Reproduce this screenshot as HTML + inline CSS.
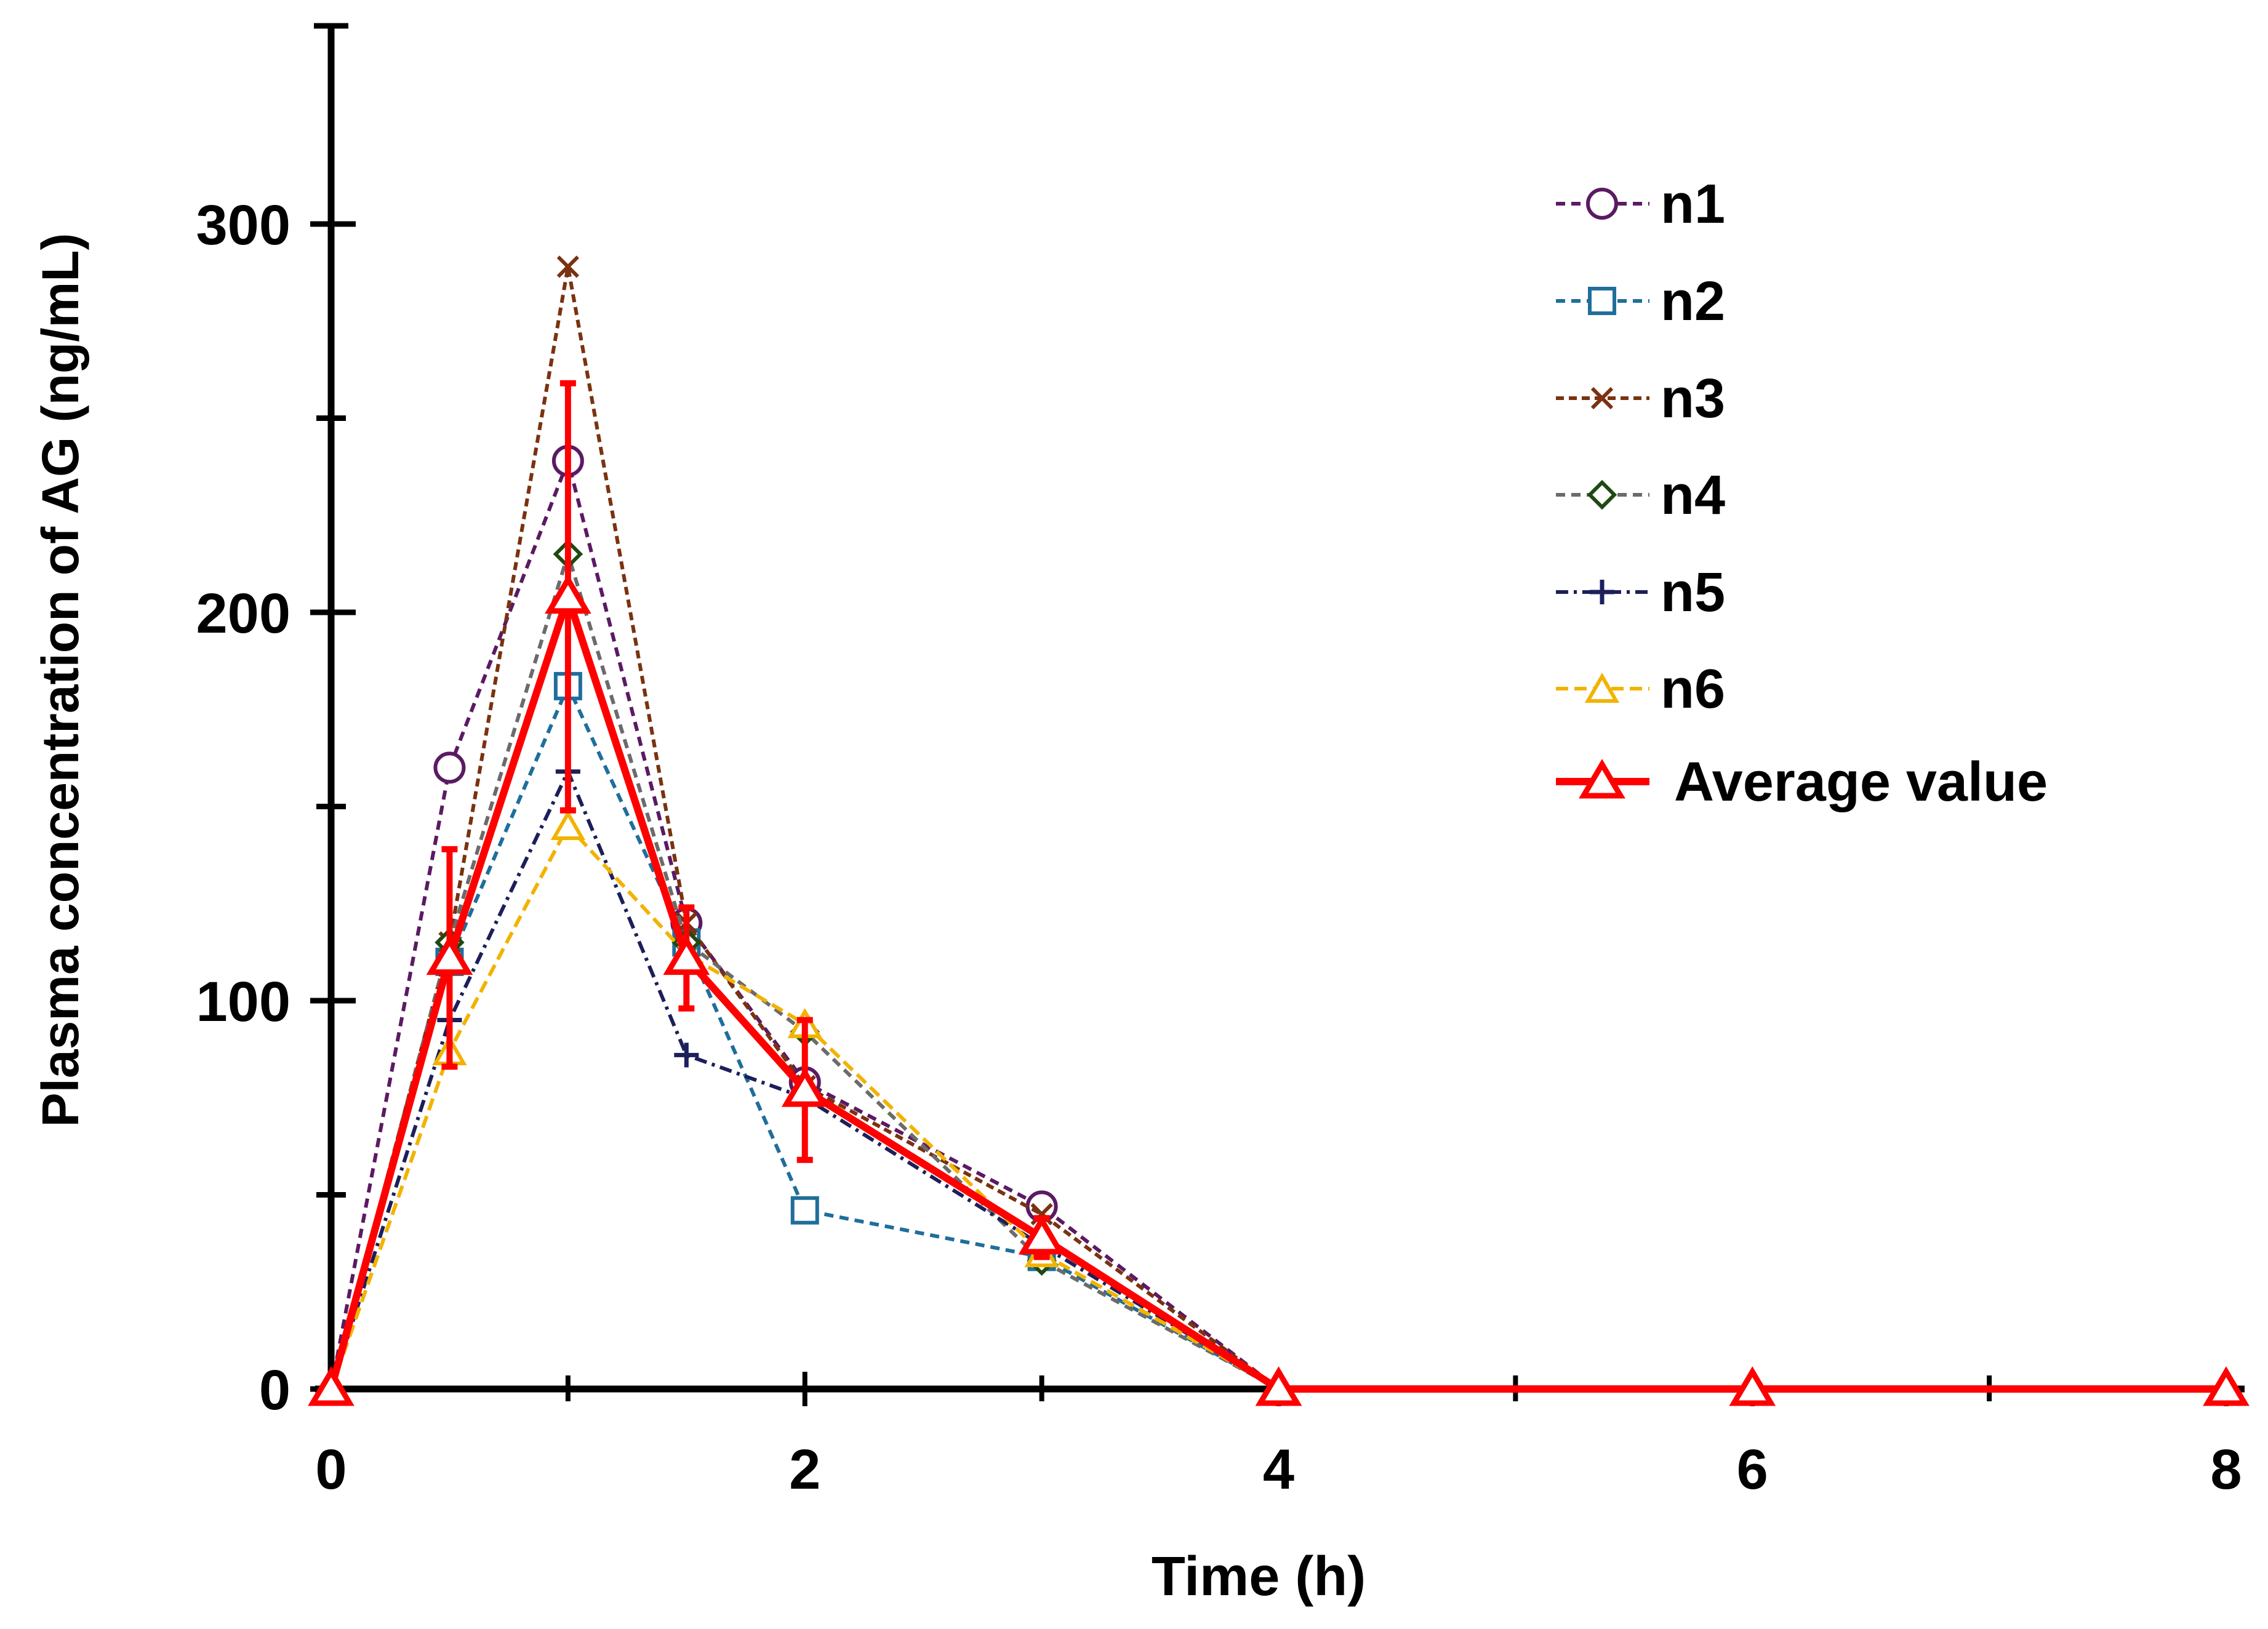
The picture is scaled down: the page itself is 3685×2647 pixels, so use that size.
<!DOCTYPE html>
<html><head><meta charset="utf-8"><style>
html,body{margin:0;padding:0;background:#fff;}
svg{display:block;font-family:"Liberation Sans",Arial,sans-serif;font-weight:bold;}
</style></head><body>
<svg id="chart" width="3685" height="2647" viewBox="0 0 3685 2647" xmlns="http://www.w3.org/2000/svg">
<g id="axes"></g>
<g id="series"></g>
<g id="legend"></g>
<text x="2045" y="2592" font-size="90" text-anchor="middle">Time (h)</text>
<text transform="translate(127,1105) rotate(-90)" font-size="84" text-anchor="middle">Plasma concentration of AG (ng/mL)</text>
</svg>
<script>
const times = [0, 0.5, 1, 1.5, 2, 3, 4, 6, 8];
const n1 = [0, 160, 239, 120, 79, 47, 0, 0, 0];
const n2 = [0, 110, 181, 115, 46, 34, 0, 0, 0];
const n3 = [0, 115, 289, 120, 78, 45, 0, 0, 0];
const n4 = [0, 115, 215, 115, 92, 33, 0, 0, 0];
const n5 = [0, 95, 159, 86, 75, 37, 0, 0, 0];
const n6 = [0, 87, 145, 112, 94, 35, 0, 0, 0];
const avg = [0, 111, 204, 111, 77, 39, 0, 0, 0];
const avgErr = [0, 28, 55, 13, 18, 5, 0, 0, 0];
const xTicks = [0, 2, 4, 6, 8];
const yTicks = [0, 100, 200, 300];
const seriesNames = ['n1','n2','n3','n4','n5','n6'];

const NS='http://www.w3.org/2000/svg';
const X0=538, X1=3617, Y0=2257, Y300=364;
function sx(v){return X0+(X1-X0)*v/8;}
function sy(v){return Y0-(Y0-Y300)*v/300;}
function mk(tag,attrs,parent){const e=document.createElementNS(NS,tag);for(const k in attrs)e.setAttribute(k,attrs[k]);parent.appendChild(e);return e;}
const axes=document.getElementById('axes'), ser=document.getElementById('series'), leg=document.getElementById('legend');

let e=mk('line',{x1:X0,y1:42,x2:X0,y2:Y0+5,stroke:'#000','stroke-width':11},axes);


e=mk('line',{x1:X0-26,y1:Y0,x2:X1+30,y2:Y0,stroke:'#000','stroke-width':11},axes);


mk('line',{x1:X0-28,y1:42,x2:X0+28,y2:42,stroke:'#000','stroke-width':9},axes);
for(let v=0;v<=300;v+=50){
  const major=v%100===0;
  e=mk('line',{x1:major?X0-34:X0-24,y1:sy(v),x2:major?X0+40:X0+24,y2:sy(v),stroke:'#000','stroke-width':9},axes);
  
  
}
yTicks.forEach(v=>{
  const t=mk('text',{x:X0-66,y:sy(v)+33,'font-size':92,'text-anchor':'end'},axes);t.textContent=v;
  
  
});
for(let v=1;v<=8;v++){
  const major=v%2===0;
  e=mk('line',{x1:sx(v),y1:major?Y0-28:Y0-22,x2:sx(v),y2:major?Y0+28:Y0+20,stroke:'#000','stroke-width':8},axes);
  
  
}
xTicks.forEach(v=>{
  const t=mk('text',{x:sx(v),y:Y0+162,'font-size':92,'text-anchor':'middle'},axes);t.textContent=v;
  
  
});

const colors={n1:'#5b1a63',n2:'#1f6e9c',n3:'#7a3210',n4:'#6b6b6b',n5:'#1c1f5a',n6:'#f2b300'};
const markerColors={n1:'#5b1a63',n2:'#1f6e9c',n3:'#7a3210',n4:'#1e4a12',n5:'#1c1f5a',n6:'#f2b300'};
const dashes={n1:'15 10',n2:'15 10',n3:'13 8',n4:'15 10',n5:'20 9 5 9',n6:'20 10'};
const dataMap={n1,n2,n3,n4,n5,n6};

function marker(name,x,y,parent,col,r){
  r=r||20;
  if(name==='n1') return mk('circle',{cx:x,cy:y,r:r+3,fill:'#fff',stroke:col,'stroke-width':6},parent);
  if(name==='n2') return mk('rect',{x:x-r,y:y-r,width:2*r,height:2*r,fill:'#fff',stroke:col,'stroke-width':6},parent);
  if(name==='n3') return mk('path',{d:`M${x-16},${y-16}L${x+16},${y+16}M${x-16},${y+16}L${x+16},${y-16}`,stroke:col,'stroke-width':6},parent);
  if(name==='n4') return mk('path',{d:`M${x},${y-r}L${x+r},${y}L${x},${y+r}L${x-r},${y}Z`,fill:'#fff',stroke:col,'stroke-width':6},parent);
  if(name==='n5') return mk('path',{d:`M${x-r},${y}L${x+r},${y}M${x},${y-r}L${x},${y+r}`,stroke:col,'stroke-width':7},parent);
  if(name==='n6') return mk('path',{d:`M${x},${y-r}L${x+r+3},${y+r}L${x-r-3},${y+r}Z`,fill:'#fff',stroke:col,'stroke-width':6},parent);
  return mk('path',{d:`M${x},${y-28}L${x+30},${y+23}L${x-30},${y+23}Z`,fill:'#fff',stroke:'#ff0000','stroke-width':9},parent);
}

seriesNames.forEach(n=>{
  const g=mk('g',{},ser);
  
  
  const d=dataMap[n];
  const pts=times.map((t,i)=>sx(t)+','+sy(d[i])).join(' ');
  const pl=mk('polyline',{points:pts,fill:'none',stroke:colors[n],'stroke-width':6,'stroke-dasharray':dashes[n]},g);
  
  
  times.forEach((t,i)=>{ if(t>=0.5&&t<=3){const m=marker(n,sx(t),sy(d[i]),g,markerColors[n]);
    
    }});
});

const ag=mk('g',{},ser);


times.forEach((t,i)=>{
  if(avgErr[i]>0){
    const x=sx(t);
    const eb=mk('path',{d:`M${x},${sy(avg[i]-avgErr[i])}L${x},${sy(avg[i]+avgErr[i])}M${x-13},${sy(avg[i]+avgErr[i])}L${x+13},${sy(avg[i]+avgErr[i])}M${x-13},${sy(avg[i]-avgErr[i])}L${x+13},${sy(avg[i]-avgErr[i])}`,stroke:'#ff0000','stroke-width':10,fill:'none'},ag);
    
    
  }
});
const apl=mk('polyline',{points:times.map((t,i)=>sx(t)+','+sy(avg[i])).join(' '),fill:'none',stroke:'#ff0000','stroke-width':12,'stroke-linejoin':'round'},ag);


times.forEach((t,i)=>{const m=marker('avg',sx(t),sy(avg[i]),ag);
  
  });

const legY=[331,489,647,804,962,1119];
seriesNames.forEach((n,i)=>{
  const g=mk('g',{},leg);
  
  
  mk('line',{x1:2528,y1:legY[i],x2:2680,y2:legY[i],stroke:colors[n],'stroke-width':6,'stroke-dasharray':dashes[n]},g);
  marker(n,2603,legY[i],g,markerColors[n]);
  const t=mk('text',{x:2698,y:legY[i]+31,'font-size':90},g);t.textContent=n;
});
const lg=mk('g',{},leg);


const ly=1270;
mk('line',{x1:2528,y1:ly,x2:2680,y2:ly,stroke:'#ff0000','stroke-width':12},lg);
marker('avg',2603,ly,lg);
const lt=mk('text',{x:2720,y:ly+31,'font-size':90},lg);lt.textContent='Average value';
</script>
</body></html>
